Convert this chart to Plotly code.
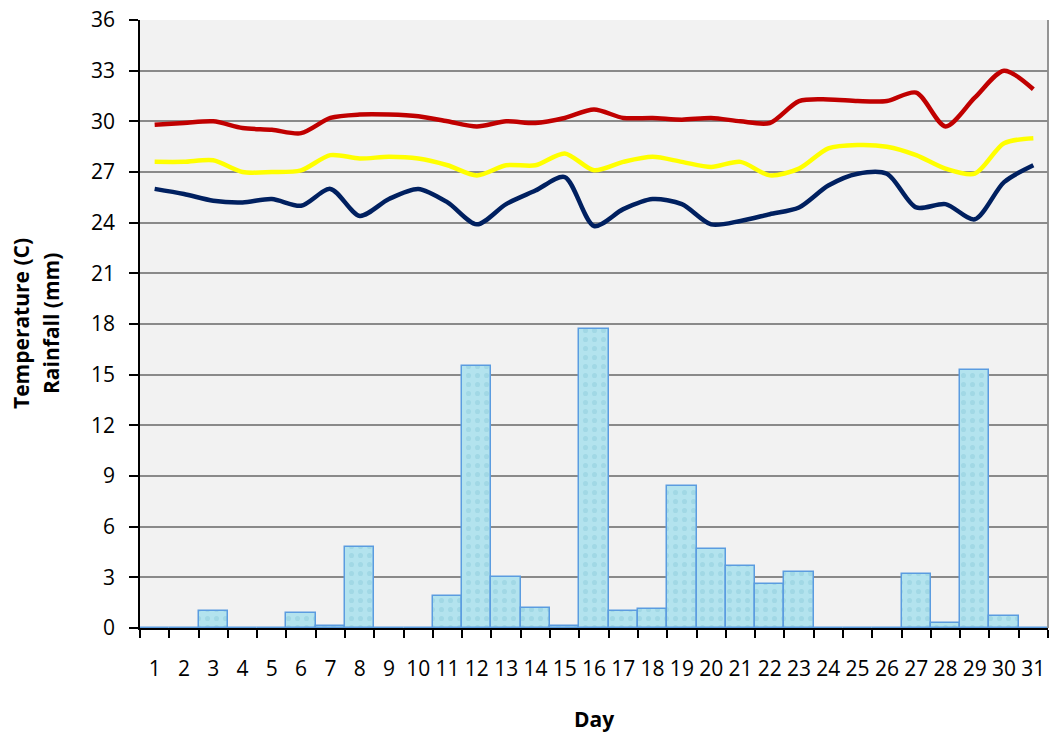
import plotly.graph_objects as go

days = [str(d) for d in range(1, 32)]

rainfall = [0, 0, 1.0, 0, 0, 0.9, 0.1, 4.8, 0, 0, 1.9, 15.5, 3.0, 1.2, 0.1, 17.7,
            1.0, 1.1, 8.4, 4.7, 3.7, 2.6, 3.3, 0, 0, 0, 3.2, 0.3, 15.3, 0.7, 0]

temp_max = [29.8, 29.9, 30.0, 29.6, 29.5, 29.3, 30.2, 30.4, 30.4, 30.3, 30.0, 29.7, 30.0, 29.9, 30.2, 30.7,
            30.2, 30.2, 30.1, 30.2, 30.0, 29.9, 31.2, 31.3, 31.2, 31.2, 31.7, 29.7, 31.4, 33.0, 31.9]

temp_avg = [27.6, 27.6, 27.7, 27.0, 27.0, 27.1, 28.0, 27.8, 27.9, 27.8, 27.4, 26.8, 27.4, 27.4, 28.1, 27.1,
            27.6, 27.9, 27.6, 27.3, 27.6, 26.8, 27.2, 28.4, 28.6, 28.5, 28.0, 27.2, 26.9, 28.7, 29.0]

temp_min = [26.0, 25.7, 25.3, 25.2, 25.4, 25.0, 26.0, 24.4, 25.4, 26.0, 25.2, 23.9, 25.1, 25.9, 26.7, 23.8,
            24.8, 25.4, 25.1, 23.9, 24.1, 24.5, 24.9, 26.2, 26.9, 26.9, 24.9, 25.1, 24.2, 26.4, 27.4]

y_ticks = list(range(0, 37, 3))

fig = go.Figure()

fig.add_trace(go.Bar(
    x=days, y=rainfall, name="Rainfall",
    marker=dict(color="#b3e3ee", line=dict(color="#5b9ce0", width=1.5),
                pattern=dict(shape=".", fgcolor="#7fc3d3", fgopacity=0.35, size=9, solidity=0.25)),
))

for vals, col in [(temp_max, "#c00000"), (temp_avg, "#ffff00"), (temp_min, "#002060")]:
    fig.add_trace(go.Scatter(
        x=days, y=vals, mode="lines",
        line=dict(color=col, width=4.5, shape="spline", smoothing=0.8),
    ))

font_fam = "Open Sans"

fig.update_layout(
    width=1051, height=737,
    margin=dict(l=140, r=3, t=20, b=109),
    paper_bgcolor="white", plot_bgcolor="#f2f2f2",
    showlegend=False, bargap=0,
    font=dict(family=font_fam, color="black"),
    xaxis=dict(
        type="category", tickson="boundaries", ticks="outside", ticklen=8,
        tickcolor="black", tickwidth=1.5, tickangle=0, automargin=False,
        showline=True, linecolor="black", linewidth=1.5,
        showgrid=False, tickfont=dict(size=21, family=font_fam),
        ticklabelstandoff=21,
        range=[-0.5, 30.5],
    ),
    yaxis=dict(
        range=[0, 36], tickvals=y_ticks, ticks="outside", ticklen=9,
        tickcolor="black", tickwidth=1.5, automargin=False,
        showline=True, linecolor="black", linewidth=1.5,
        showgrid=True, gridcolor="#8a8a8a", gridwidth=1.8,
        zeroline=False, tickfont=dict(size=21, family=font_fam),
        ticklabelstandoff=10,
    ),
    shapes=[dict(type="line", xref="paper", yref="paper", x0=1, x1=1, y0=0, y1=1,
                 line=dict(color="#8a8a8a", width=1.8))],
    annotations=[
        dict(text="<b>Day</b>", xref="paper", yref="paper", x=(594 - 140) / 908, y=-(719 - 628) / 608,
             showarrow=False, font=dict(size=21, family=font_fam), xanchor="center", yanchor="middle"),
        dict(text="<b>Temperature (C)</b>", xref="paper", yref="paper", x=-(140 - 21) / 908, y=0.5,
             textangle=-90, showarrow=False, font=dict(size=21, family=font_fam),
             xanchor="center", yanchor="middle"),
        dict(text="<b>Rainfall (mm)</b>", xref="paper", yref="paper", x=-(140 - 51) / 908, y=0.5,
             textangle=-90, showarrow=False, font=dict(size=21, family=font_fam),
             xanchor="center", yanchor="middle"),
    ],
)

fig.write_html("out.html", config={"displayModeBar": False},
               post_script="document.body.style.margin='0';document.body.style.padding='0';")
